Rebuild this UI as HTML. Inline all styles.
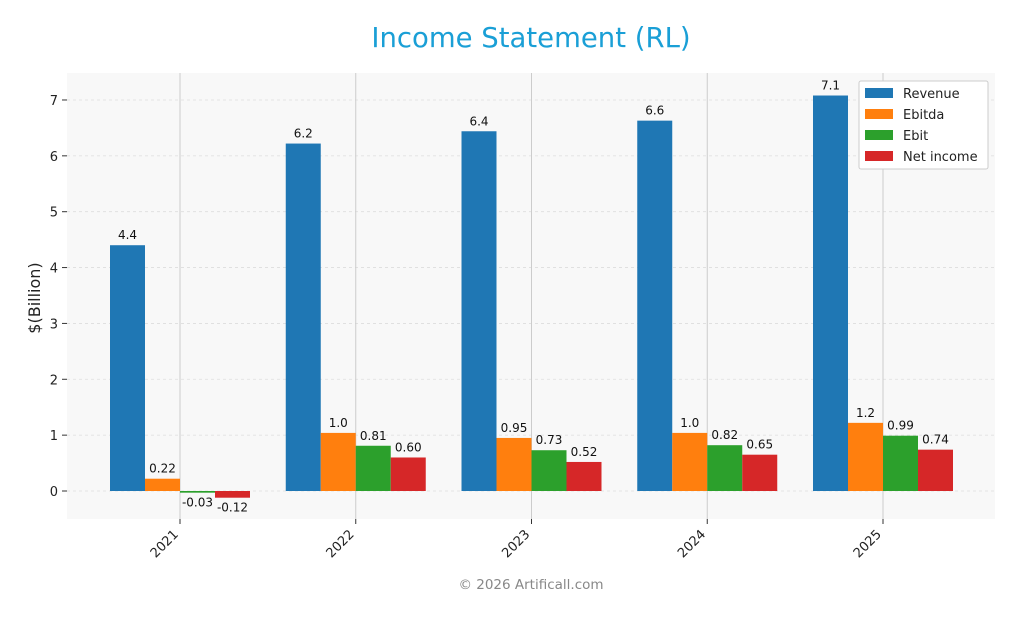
<!DOCTYPE html>
<html><head><meta charset="utf-8"><style>
body{margin:0;background:#fff;font-family:"Liberation Sans","DejaVu Sans",sans-serif}
svg text{font-family:"DejaVu Sans","Liberation Sans",sans-serif}
</style></head><body>
<svg id="chart" width="1019" height="617" xmlns="http://www.w3.org/2000/svg">
<rect width="1019" height="617" fill="#fff"/>
<text x="531" y="47" text-anchor="middle" font-size="27.5" fill="#1a9fd6">Income Statement (RL)</text>
<rect x="67" y="73" width="928" height="446" fill="#f8f8f8"/>
<g id="grid"></g><g id="bars"></g><g id="labels"></g><g id="axes"></g>
<text x="40" y="298" transform="rotate(-90 40 298)" text-anchor="middle" font-size="16" fill="#222">$(Billion)</text>
<text x="531" y="589" text-anchor="middle" font-size="13.5" fill="#888">© 2026 Artificall.com</text>
<g>
<rect x="859" y="81" width="129" height="88" fill="#fff" stroke="#ccc" rx="2"/>
</g>
<g id="legend"></g>
</svg>
<script>
const categories=["2021","2022","2023","2024","2025"];
const seriesNames=["Revenue","Ebitda","Ebit","Net income"];
const revenue=[4.4,6.22,6.44,6.63,7.08];
const ebitda=[0.22,1.04,0.95,1.04,1.22];
const ebit=[-0.03,0.81,0.73,0.82,0.99];
const netIncome=[-0.12,0.60,0.52,0.65,0.74];
const revenueLabels=["4.4","6.2","6.4","6.6","7.1"];
const ebitdaLabels=["0.22","1.0","0.95","1.0","1.2"];
const ebitLabels=["-0.03","0.81","0.73","0.82","0.99"];
const netLabels=["-0.12","0.60","0.52","0.65","0.74"];
const yTicks=[0,1,2,3,4,5,6,7];
const colors=["#1f77b4","#ff7f0e","#2ca02c","#d62728"];
const NS="http://www.w3.org/2000/svg";
const y=v=>491-v*55.86;
const x=i=>180+i*175.75;
function mk(tag,attrs,parent,txt){const e=document.createElementNS(NS,tag);for(const k in attrs)e.setAttribute(k,attrs[k]);if(txt!==undefined)e.textContent=txt;document.getElementById(parent).appendChild(e);return e;}
yTicks.forEach(t=>{
 const g=mk("line",{x1:67,x2:995,y1:y(t),y2:y(t),stroke:"#ddd","stroke-dasharray":"3,3","stroke-width":0.8},"grid");
 
 
 mk("line",{x1:62,x2:67,y1:y(t),y2:y(t),stroke:"#333"},"axes");
 const l=mk("text",{x:58,y:y(t)+5,"text-anchor":"end","font-size":13,fill:"#222"},"axes",String(t));
 
 
});
categories.forEach((c,i)=>{
 const g=mk("line",{x1:x(i),x2:x(i),y1:73,y2:519,stroke:"#ccc","stroke-width":1},"grid");
 
 
 mk("line",{x1:x(i),x2:x(i),y1:519,y2:524,stroke:"#333"},"axes");
 const lx=x(i)-1,ly=535;
 const t=mk("text",{x:lx,y:ly,"text-anchor":"end","font-size":13,fill:"#222",transform:`rotate(-45 ${lx} ${ly})`},"axes",c);
 
 
});
const all=[revenue,ebitda,ebit,netIncome];
const labs=[revenueLabels,ebitdaLabels,ebitLabels,netLabels];
all.forEach((s,si)=>{
 s.forEach((v,i)=>{
  const cx=x(i)-52.5+si*35;
  const top=Math.min(y(v),y(0)),h=Math.abs(y(v)-y(0));
  const r=mk("rect",{x:cx-17.5,y:top,width:35,height:Math.max(h,0.5),fill:colors[si]},"bars");
  
  
  const ly=v>=0?y(v)-6:y(v)+14;
  const t=mk("text",{x:cx,y:ly,"text-anchor":"middle","font-size":12,fill:"#111"},"labels",labs[si][i]);
  
  
 });
});
seriesNames.forEach((n,i)=>{
 const yy=93+i*21;
 const r=mk("rect",{x:865,y:yy-5,width:28,height:10,fill:colors[i]},"legend");
 
 
 const t=mk("text",{x:903,y:yy+5,"font-size":13,fill:"#222"},"legend",n);
 
 
});
</script>
</body></html>
